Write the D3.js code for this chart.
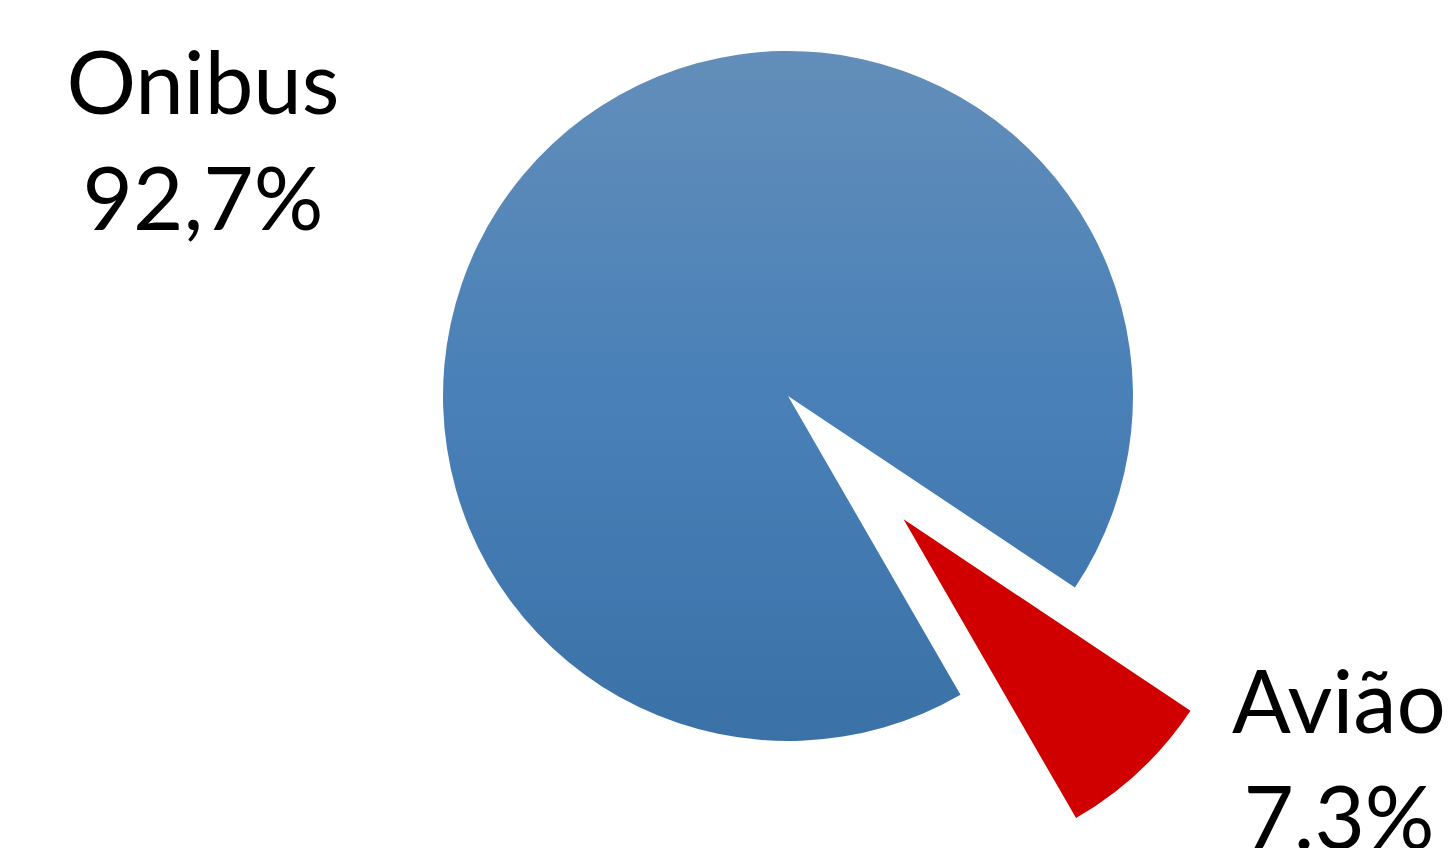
<!DOCTYPE html>
<html><head><meta charset="utf-8">
<script src="https://cdn.jsdelivr.net/npm/d3@7"></script>
<style>html,body{margin:0;padding:0;background:#fff;overflow:hidden}</style>
</head><body>
<svg id="chart" width="1451" height="848"></svg>
<script>
const categories = ["Onibus", "Avião"];
const values = [92.7, 7.3];
const labels = ["92,7%", "7.3%"];

const svg = d3.select("#chart");
const cx = 788, cy = 396, R = 345, explode = 169;
const startDeg = 150.0;

const defs = svg.append("defs");
const grad = defs.append("linearGradient").attr("id", "blueGrad")
  .attr("gradientUnits", "userSpaceOnUse")
  .attr("x1", 0).attr("y1", -R).attr("x2", 0).attr("y2", R);
grad.append("stop").attr("offset", "0%").attr("stop-color", "#638eba");
grad.append("stop").attr("offset", "50%").attr("stop-color", "#4880b7");
grad.append("stop").attr("offset", "100%").attr("stop-color", "#3a72a8");

const fills = ["url(#blueGrad)", "#d00000"];
const explodes = [0, explode];

const pie = d3.pie().sort(null).value(d => d)
  .startAngle(startDeg * Math.PI / 180)
  .endAngle(startDeg * Math.PI / 180 + 2 * Math.PI);
const arc = d3.arc().innerRadius(0).outerRadius(R);
const arcs = pie(values);

const g = svg.append("g").attr("transform", `translate(${cx},${cy})`);
g.selectAll("path").data(arcs).join("path")
  .attr("d", arc)
  .attr("fill", (d, i) => fills[i])
  .attr("transform", (d, i) => {
    const m = (d.startAngle + d.endAngle) / 2;
    const e = explodes[i];
    return `translate(${e * Math.sin(m)},${-e * Math.cos(m)})`;
  });

const labelPos = [[203, 114], [1339, 733]];
const fontSize = 87;
categories.forEach((c, i) => {
  const t = svg.append("text")
    .attr("x", labelPos[i][0]).attr("y", labelPos[i][1])
    .attr("text-anchor", "middle")
    .attr("font-family", "Lato, 'Open Sans', sans-serif")
    .attr("font-size", fontSize).attr("fill", "#000");
  t.append("tspan").attr("x", labelPos[i][0]).text(c);
  t.append("tspan").attr("x", labelPos[i][0]).attr("dy", 116).text(labels[i]);
});
</script>
</body></html>
